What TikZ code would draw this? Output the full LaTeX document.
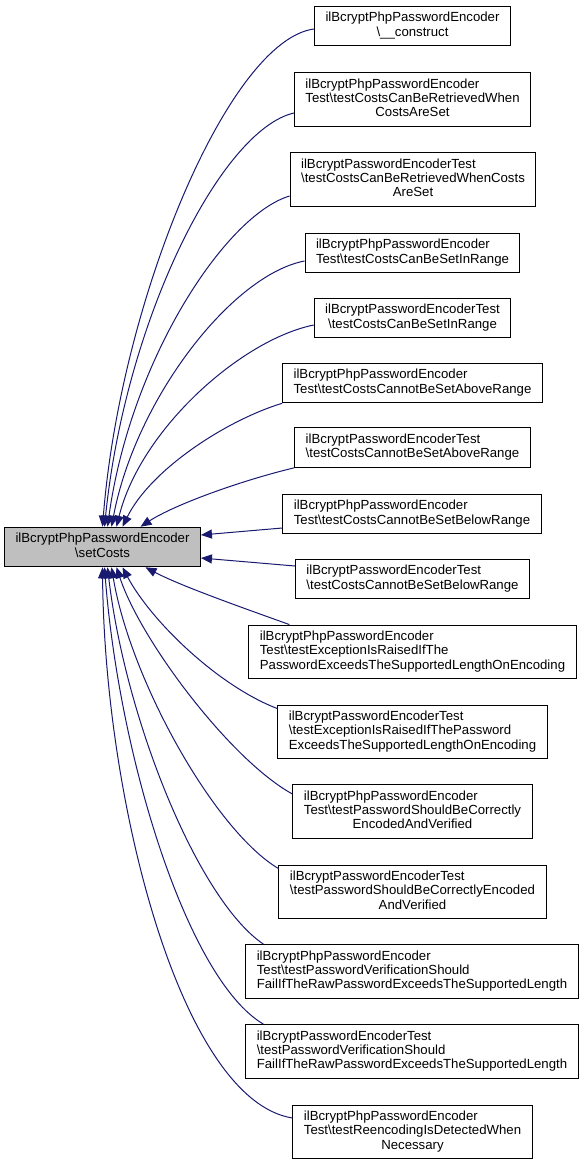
\documentclass[tikz,border=0pt]{standalone}
\usepackage{fontspec}
\setmainfont{Liberation Sans}
\usetikzlibrary{arrows.meta}
\definecolor{edgeblue}{HTML}{191970}
\newcommand{\bkslash}{\textbackslash}
\newcommand{\lastln}[1]{\multicolumn{1}{@{}c@{}}{#1}}
\newcommand{\fnlabel}[1]{\begin{tabular}{@{}l@{}}#1\end{tabular}}
\tikzset{
  fn/.style={draw=black, line width=1pt, fill=white, inner xsep=11pt, inner ysep=5.5pt, font=\fontsize{13.2}{14.3}\selectfont},
  fnmain/.style={fn, fill=black!25},
  caller/.style={draw=edgeblue, line width=1pt, -{Triangle[length=11pt,width=9pt]}},
}

\begin{document}
\begin{tikzpicture}[x=1pt, y=-1pt]
\useasboundingbox (0,0) rectangle (583,1166);
% called function
\node [fnmain] (setcosts) at (102.5,547) {\fnlabel{ilBcryptPhpPasswordEncoder\\ \lastln{\bkslash setCosts}}};
% callers
\node [fn] (ctor) at (412.5,26) {\fnlabel{ilBcryptPhpPasswordEncoder\\ \lastln{\bkslash\_\_construct}}};
\node [fn] (phpget) at (412.5,99.5) {\fnlabel{ilBcryptPhpPasswordEncoder\\ Test\bkslash testCostsCanBeRetrievedWhen\\ \lastln{CostsAreSet}}};
\node [fn] (get) at (413,179.5) {\fnlabel{ilBcryptPasswordEncoderTest\\ \bkslash testCostsCanBeRetrievedWhenCosts\\ \lastln{AreSet}}};
\node [fn] (phprange) at (412.5,253) {\fnlabel{ilBcryptPhpPasswordEncoder\\ \lastln{Test\bkslash testCostsCanBeSetInRange}}};
\node [fn] (range) at (412.5,318) {\fnlabel{ilBcryptPasswordEncoderTest\\ \lastln{\bkslash testCostsCanBeSetInRange}}};
\node [fn] (phpabove) at (412.5,383) {\fnlabel{ilBcryptPhpPasswordEncoder\\ \lastln{Test\bkslash testCostsCannotBeSetAboveRange}}};
\node [fn] (above) at (412.5,447.5) {\fnlabel{ilBcryptPasswordEncoderTest\\ \lastln{\bkslash testCostsCannotBeSetAboveRange}}};
\node [fn] (phpbelow) at (412,514) {\fnlabel{ilBcryptPhpPasswordEncoder\\ \lastln{Test\bkslash testCostsCannotBeSetBelowRange}}};
\node [fn] (below) at (412.5,579) {\fnlabel{ilBcryptPasswordEncoderTest\\ \lastln{\bkslash testCostsCannotBeSetBelowRange}}};
\node [fn] (phpexc) at (412.5,652) {\fnlabel{ilBcryptPhpPasswordEncoder\\ Test\bkslash testExceptionIsRaisedIfThe\\ \lastln{PasswordExceedsTheSupportedLengthOnEncoding}}};
\node [fn] (exc) at (412.5,732) {\fnlabel{ilBcryptPasswordEncoderTest\\ \bkslash testExceptionIsRaisedIfThePassword\\ \lastln{ExceedsTheSupportedLengthOnEncoding}}};
\node [fn] (phpenc) at (412.5,811.5) {\fnlabel{ilBcryptPhpPasswordEncoder\\ Test\bkslash testPasswordShouldBeCorrectly\\ \lastln{EncodedAndVerified}}};
\node [fn] (enc) at (412.5,892) {\fnlabel{ilBcryptPasswordEncoderTest\\ \bkslash testPasswordShouldBeCorrectlyEncoded\\ \lastln{AndVerified}}};
\node [fn] (phpverif) at (412,971.5) {\fnlabel{ilBcryptPhpPasswordEncoder\\ Test\bkslash testPasswordVerificationShould\\ \lastln{FailIfTheRawPasswordExceedsTheSupportedLength}}};
\node [fn] (verif) at (412,1051.5) {\fnlabel{ilBcryptPasswordEncoderTest\\ \bkslash testPasswordVerificationShould\\ \lastln{FailIfTheRawPasswordExceedsTheSupportedLength}}};
\node [fn] (phpreenc) at (412.5,1132) {\fnlabel{ilBcryptPhpPasswordEncoder\\ Test\bkslash testReencodingIsDetectedWhen\\ \lastln{Necessary}}};
% calls from above
\draw [caller] ([yshift=-3pt]ctor.west) .. controls +(-85,11) and +(18,-227) .. (setcosts.north);
\draw [caller] ([yshift=-13.5pt]phpget.west) .. controls +(-73,17) and +(21,-207) .. ([xshift=2pt]setcosts.north);
\draw [caller] ([yshift=-16.5pt]get.west) .. controls +(-64,19) and +(23,-167) .. ([xshift=5pt]setcosts.north);
\draw [caller] ([yshift=-8pt]phprange.west) .. controls +(-73,14) and +(24,-127) .. ([xshift=9pt]setcosts.north);
\draw [caller] ([yshift=-7pt]range.west) .. controls +(-73,15) and +(24,-97) .. ([xshift=14pt]setcosts.north);
\draw [caller] (phpabove.south west) .. controls +(-56,17) and +(28,-57) .. ([xshift=20pt]setcosts.north);
\draw [caller] (above.south west) .. controls +(-54,13) and +(34,-22) .. ([xshift=38pt]setcosts.north);
% calls from the side
\draw [caller] ([yshift=-14pt]phpbelow.west) -- ([yshift=12pt]setcosts.east);
\draw [caller] ([yshift=13pt]below.west) -- ([yshift=-11pt]setcosts.east);
% calls from below
\draw [caller] ([xshift=41pt]phpexc.north west) .. controls +(-53,-19) and +(34,18) .. ([xshift=43pt]setcosts.south);
\draw [caller] ([yshift=-4pt]exc.north west) .. controls +(-60,-23) and +(28,53) .. ([xshift=20pt]setcosts.south);
\draw [caller] ([yshift=17.5pt]phpenc.west) .. controls +(-62,-34) and +(24,73) .. ([xshift=14pt]setcosts.south);
\draw [caller] ([yshift=-4pt]enc.north west) .. controls +(-64,-38) and +(19,113) .. ([xshift=9pt]setcosts.south);
\draw [caller] ([xshift=18pt]phpverif.north west) .. controls +(-65,-44) and +(18,153) .. ([xshift=5pt]setcosts.south);
\draw [caller] ([xshift=18pt]verif.north west) .. controls +(-75,-44) and +(15,193) .. ([xshift=2pt]setcosts.south);
\draw [caller] ([yshift=14pt]phpreenc.west) .. controls +(-112,-18) and +(2,233) .. (setcosts.south);
\end{tikzpicture}
\end{document}
